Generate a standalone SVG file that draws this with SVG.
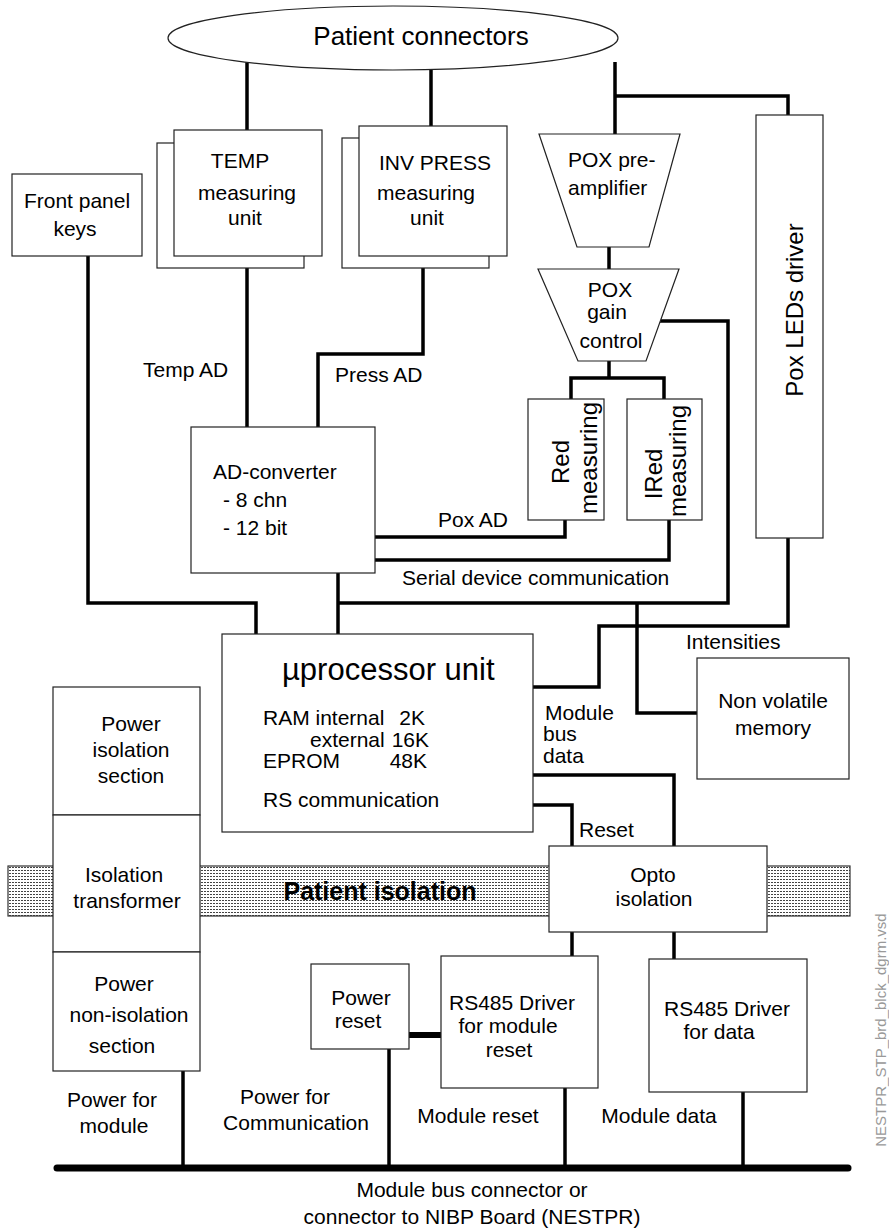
<svg xmlns="http://www.w3.org/2000/svg" width="889" height="1230" viewBox="0 0 889 1230">
<style>
.box{fill:#fff;stroke:#222;stroke-width:1.2}
.t{font-family:"Liberation Sans",Arial,sans-serif;font-size:21px;fill:#000}
.m{text-anchor:middle}
.r{font-family:"Liberation Sans",Arial,sans-serif;font-size:24px;fill:#000;text-anchor:middle}
.c{fill:none;stroke:#000;stroke-width:3.5;stroke-linejoin:miter}
</style>
<defs>
<pattern id="dots" width="3" height="3" patternUnits="userSpaceOnUse">
<rect width="3" height="3" fill="#fff"/>
<rect x="0" y="0" width="2" height="1" fill="#444"/>
</pattern>
</defs>
<rect width="889" height="1230" fill="#fff"/>

<g id="band">
<rect x="8" y="866" width="842" height="50" fill="url(#dots)" stroke="#333" stroke-width="1.2"/>
<text class="t" x="380" y="900" text-anchor="middle" style="font-size:25px;font-weight:bold">Patient isolation</text>
</g>

<g id="connectors">
<path class="c" d="M247 62V130"/>
<path class="c" d="M431 69V126"/>
<path class="c" d="M615 62V134M615 96H788V115"/>
<path class="c" d="M609 247V269"/>
<path class="c" d="M247 268V427"/>
<path class="c" d="M423 268V354H318V427"/>
<path class="c" d="M609 361V378M571 399V378H664V399"/>
<path class="c" d="M660 321H728V603H338"/>
<path class="c" d="M375 537H565V520"/>
<path class="c" d="M375 560H669V520"/>
<path class="c" d="M88 256V603H256V634"/>
<path class="c" d="M338 573V634"/>
<path class="c" d="M637 603V713H697"/>
<path class="c" d="M788 538V626H599V687H533"/>
<path class="c" d="M533 775H674V846"/>
<path class="c" d="M533 805H572V846"/>
<path class="c" d="M572 932V956"/>
<path class="c" d="M674 932V959"/>
<path class="c" d="M183 1071V1168"/>
<path class="c" d="M389 1049V1168"/>
<path class="c" d="M565 1088V1168"/>
<path class="c" d="M743 1092V1168"/>
<path d="M409 1035H441" stroke="#000" stroke-width="6" fill="none"/>
<path d="M57 1168H848" stroke="#000" stroke-width="7" stroke-linecap="round" fill="none"/>
</g>

<g id="patient-connectors">
<ellipse cx="393" cy="38" rx="225" ry="32" class="box"/>
<text class="t" x="421" y="45" text-anchor="middle" style="font-size:26px">Patient connectors</text>
</g>

<g id="temp">
<rect class="box" x="157" y="143" width="147" height="125"/>
<rect class="box" x="174" y="130" width="148" height="126"/>
<text class="t m" x="240" y="168">TEMP</text>
<text class="t m" x="247" y="200">measuring</text>
<text class="t m" x="245" y="225">unit</text>
</g>

<g id="invpress">
<rect class="box" x="342" y="138" width="147" height="130"/>
<rect class="box" x="359" y="126" width="148" height="130"/>
<text class="t m" x="435" y="170">INV PRESS</text>
<text class="t m" x="426" y="200">measuring</text>
<text class="t m" x="427" y="225">unit</text>
</g>

<g id="front-panel">
<rect class="box" x="12" y="174" width="130" height="82"/>
<text class="t m" x="77" y="208">Front panel</text>
<text class="t m" x="75" y="236">keys</text>
</g>

<g id="pox-preamp">
<polygon class="box" points="539,134 680,134 649,247 577,247"/>
<text class="t" x="568" y="167">POX pre-</text>
<text class="t" x="568" y="195">amplifier</text>
</g>

<g id="pox-gain">
<polygon class="box" points="538,269 679,269 646,361 578,361"/>
<text class="t m" x="610" y="297">POX</text>
<text class="t m" x="607" y="319">gain</text>
<text class="t m" x="611" y="348">control</text>
</g>

<g id="pox-leds">
<rect class="box" x="756" y="115" width="67" height="423"/>
<text class="r" transform="translate(803 310) rotate(-90)">Pox LEDs driver</text>
</g>

<g id="red">
<rect class="box" x="528" y="399" width="76" height="121"/>
<text class="r" transform="translate(569 462) rotate(-90)">Red</text>
<text class="r" transform="translate(597 458) rotate(-90)">measuring</text>
</g>

<g id="ired">
<rect class="box" x="627" y="399" width="75" height="121"/>
<text class="r" transform="translate(662 474) rotate(-90)">IRed</text>
<text class="r" transform="translate(686 461) rotate(-90)">measuring</text>
</g>

<g id="ad-converter">
<rect class="box" x="191" y="427" width="184" height="146"/>
<text class="t" x="213" y="479">AD-converter</text>
<text class="t" x="223" y="507">- 8 chn</text>
<text class="t" x="223" y="535">- 12 bit</text>
</g>

<g id="labels">
<text class="t" x="143" y="377">Temp AD</text>
<text class="t" x="335" y="382">Press AD</text>
<text class="t" x="438" y="527">Pox AD</text>
<text class="t" x="402" y="585">Serial device communication</text>
<text class="t" x="686" y="649">Intensities</text>
<text class="t" x="545" y="720">Module</text>
<text class="t" x="543" y="741">bus</text>
<text class="t" x="543" y="763">data</text>
<text class="t" x="579" y="837">Reset</text>
<text class="t m" x="112" y="1107">Power for</text>
<text class="t m" x="114" y="1133">module</text>
<text class="t m" x="285" y="1104">Power for</text>
<text class="t m" x="296" y="1130">Communication</text>
<text class="t m" x="478" y="1123">Module reset</text>
<text class="t m" x="659" y="1123">Module data</text>
<text class="t m" x="472" y="1197">Module bus connector or</text>
<text class="t m" x="472" y="1224">connector to NIBP Board (NESTPR)</text>
<text transform="translate(886 1030) rotate(-90)" style="font-family:'Liberation Sans',Arial,sans-serif;font-size:15px;fill:#999;text-anchor:middle">NESTPR_STP_brd_blck_dgrm.vsd</text>
</g>

<g id="processor">
<rect class="box" x="222" y="634" width="311" height="198"/>
<text class="t" x="282" y="680" style="font-size:31px">µprocessor unit</text>
<text class="t" x="263" y="725">RAM internal</text>
<text class="t" x="425" y="725" text-anchor="end">2K</text>
<text class="t" x="310" y="747">external</text>
<text class="t" x="429" y="747" text-anchor="end">16K</text>
<text class="t" x="263" y="768">EPROM</text>
<text class="t" x="427" y="768" text-anchor="end">48K</text>
<text class="t" x="263" y="807">RS communication</text>
</g>

<g id="nv-memory">
<rect class="box" x="697" y="658" width="152" height="121"/>
<text class="t m" x="773" y="708">Non volatile</text>
<text class="t m" x="773" y="735">memory</text>
</g>

<g id="power-isolation">
<rect class="box" x="53" y="687" width="147" height="128"/>
<text class="t m" x="131" y="731">Power</text>
<text class="t m" x="131" y="757">isolation</text>
<text class="t m" x="131" y="783">section</text>
</g>

<g id="isolation-transformer">
<rect class="box" x="53" y="815" width="147" height="137"/>
<text class="t m" x="124" y="882">Isolation</text>
<text class="t m" x="127" y="908">transformer</text>
</g>

<g id="power-non-isolation">
<rect class="box" x="53" y="952" width="147" height="119"/>
<text class="t m" x="124" y="991">Power</text>
<text class="t m" x="129" y="1022">non-isolation</text>
<text class="t m" x="122" y="1053">section</text>
</g>

<g id="opto">
<rect class="box" x="549" y="846" width="218" height="86"/>
<text class="t m" x="653" y="882">Opto</text>
<text class="t m" x="654" y="906">isolation</text>
</g>

<g id="power-reset">
<rect class="box" x="311" y="964" width="98" height="85"/>
<text class="t m" x="361" y="1005">Power</text>
<text class="t m" x="358" y="1028">reset</text>
</g>

<g id="rs485-reset">
<rect class="box" x="441" y="956" width="157" height="132"/>
<text class="t m" x="512" y="1010">RS485 Driver</text>
<text class="t m" x="508" y="1033">for module</text>
<text class="t m" x="509" y="1057">reset</text>
</g>

<g id="rs485-data">
<rect class="box" x="649" y="959" width="158" height="133"/>
<text class="t m" x="727" y="1016">RS485 Driver</text>
<text class="t m" x="719" y="1039">for data</text>
</g>
</svg>
